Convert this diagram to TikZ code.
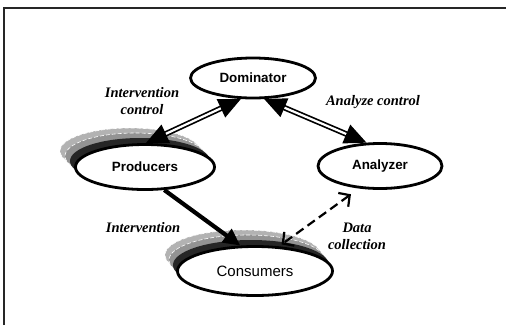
\documentclass[tikz,border=0pt]{standalone}
\usepackage{fontspec}
\setmainfont{Liberation Serif}
\setsansfont{Liberation Sans}
\usepackage{tikz}
\usetikzlibrary{shapes.geometric, arrows.meta, positioning}

\tikzset{
    entity/.style={ellipse, draw, fill=white, line width=2.8pt, inner sep=0pt,
        font=\sffamily\bfseries\fontsize{13.4}{16}\selectfont},
    ghost/.style={draw=white, line width=0.6pt, dash pattern=on 4pt off 2pt},
    lbl/.style={inner sep=0pt, font=\rmfamily\bfseries\itshape\fontsize{14.5}{17}\selectfont},
    ctrl/.style={{Triangle[length=22pt,width=20pt]}-{Triangle[length=22pt,width=20pt]},
        double, line width=1.7pt, double distance=2.2pt},
    flow/.style={-{Triangle[length=17pt,width=16pt]}, line width=4.2pt},
    datalink/.style={{Straight Barb[length=8pt,width=17pt]}-{Straight Barb[length=8pt,width=17pt]},
        line width=2.2pt, dash pattern=on 9pt off 5pt}
}

\begin{document}
\begin{tikzpicture}[x=1pt, y=-1pt]
    \useasboundingbox (0,0) rectangle (506,325);

    % frame
    \draw[line width=1.3pt, black!85] (4,325) -- (4,8) -- (506,8);

    % shadows behind producers and consumers
    \fill[gray!60] (130,151) ellipse (70 and 23);
    \draw[ghost] (130,151) ellipse (70 and 23);
    \fill[gray!85] (135,156) ellipse (70 and 23);
    \draw[ghost] (135,156) ellipse (70 and 23);
    \fill[black!85] (140,161) ellipse (70 and 23);

    \fill[gray!60] (243,255) ellipse (78 and 25);
    \draw[ghost] (243,255) ellipse (78 and 25);
    \fill[gray!85] (247,260) ellipse (78 and 25);
    \draw[ghost] (247,260) ellipse (78 and 25);
    \fill[black!85] (251,265) ellipse (78 and 25);

    % entities
    \node[entity, minimum width=125pt, minimum height=40pt] (dom) at (253,78) {Dominator};
    \node[entity, minimum width=139pt, minimum height=45pt] (prod) at (145,167) {Producers};
    \node[entity, minimum width=124pt, minimum height=45pt] (ana) at (380,166) {Analyzer};
    \node[entity, minimum width=155pt, minimum height=49pt,
          font=\sffamily\fontsize{15}{18}\selectfont] (cons) at (255,271) {Consumers};

    % connectors
    \draw[ctrl] (prod.88) -- (dom.240);
    \draw[ctrl] (dom.298) -- (ana.120);
    \draw[flow] (prod.310) -- (cons.120);
    \draw[datalink] ([shift={(-6pt,-6pt)}]ana.224) -- ([shift={(2pt,2pt)}]cons.45);

    % labels
    \node[lbl, align=center] (ictl) at (142,101) {Intervention\\control};
    \node[lbl] (actl) at (373,102) {Analyze control};
    \node[lbl] (intv) at (143,228) {Intervention};
    \node[lbl, align=center] (dcol) at (357,236) {Data\\collection};
\end{tikzpicture}
\end{document}
